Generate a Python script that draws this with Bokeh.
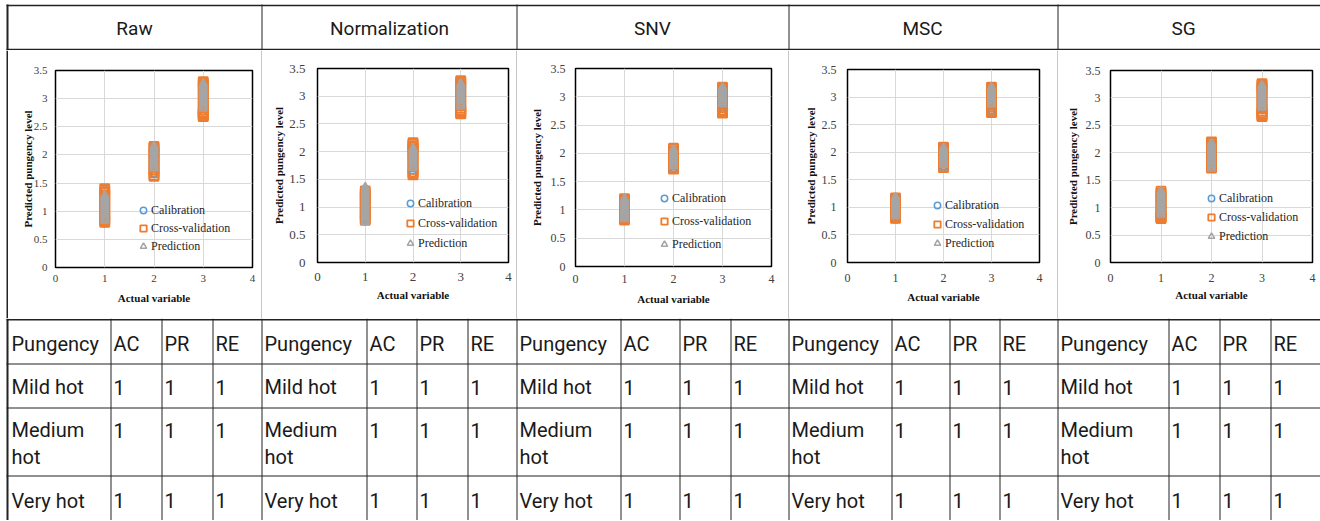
from bokeh.plotting import figure
from bokeh.models import Range1d, FixedTicker, Legend, LegendItem
from bokeh.layouts import row, column
from bokeh.embed import file_html
from bokeh.resources import INLINE
from bokeh.core.properties import value

# ---------------- data ----------------
methods = ["Raw", "Normalization", "SNV", "MSC", "SG"]
classes = [1, 2, 3]
series_names = ["Calibration", "Cross-validation", "Prediction"]
x_tick_values = [0, 1, 2, 3, 4]
x_tick_labels = ["0", "1", "2", "3", "4"]
y_tick_values = [0, 0.5, 1, 1.5, 2, 2.5, 3, 3.5]
y_tick_labels = ["0", "0.5", "1", "1.5", "2", "2.5", "3", "3.5"]
x_title = "Actual variable"
y_title = "Predicted pungency level"

table_columns = ["Pungency", "AC", "PR", "RE"]
pungency_levels = ["Mild  hot", "Medium\nhot", "Very  hot"]
ac_values = [[1, 1, 1], [1, 1, 1], [1, 1, 1], [1, 1, 1], [1, 1, 1]]
pr_values = [[1, 1, 1], [1, 1, 1], [1, 1, 1], [1, 1, 1], [1, 1, 1]]
re_values = [[1, 1, 1], [1, 1, 1], [1, 1, 1], [1, 1, 1], [1, 1, 1]]

# predicted values per actual class (1, 2, 3)
raw_cal = [[0.78, 0.82, 0.87, 0.91, 0.94, 0.99, 1.03, 1.08, 1.12, 1.17, 1.21, 1.26, 1.31, 1.36, 1.39],
           [1.66, 1.68, 1.72, 1.77, 1.81, 1.86, 1.90, 1.95, 1.99, 2.04, 2.09, 2.13, 2.17],
           [2.78, 2.84, 2.88, 2.93, 2.97, 3.02, 3.06, 3.11, 3.16, 3.20, 3.25, 3.29]]
raw_cv = [[0.80, 0.82, 0.85, 0.89, 0.93, 0.97, 1.02, 1.06, 1.11, 1.16, 1.20, 1.25, 1.29, 1.33, 1.37, 1.40],
          [1.62, 1.64, 1.68, 1.73, 1.78, 1.82, 1.87, 1.92, 1.96, 2.01, 2.05, 2.10, 2.13, 2.15],
          [2.68, 2.69, 2.71, 2.72, 2.74, 2.76, 2.79, 2.83, 2.88, 2.94, 2.99, 3.05, 3.10, 3.16, 3.21, 3.25, 3.28, 3.30]]
raw_pr = [[0.83, 0.86, 0.89, 0.93, 0.96, 0.99, 1.02, 1.06, 1.09, 1.12, 1.15, 1.19, 1.22, 1.25, 1.28],
          [1.76, 1.79, 1.82, 1.85, 1.89, 1.92, 1.95, 1.98, 2.02, 2.05, 2.08, 2.11, 2.14, 2.16],
          [2.82, 2.85, 2.88, 2.92, 2.95, 2.98, 3.01, 3.05, 3.08, 3.11, 3.14, 3.18, 3.21, 3.24, 3.27]]

norm_cal = [[0.75, 0.79, 0.84, 0.88, 0.93, 0.97, 1.02, 1.06, 1.11, 1.15, 1.20, 1.24, 1.29, 1.33],
            [1.59, 1.61, 1.66, 1.70, 1.75, 1.80, 1.84, 1.89, 1.94, 1.98, 2.03, 2.07, 2.11],
            [2.80, 2.85, 2.89, 2.94, 2.98, 3.03, 3.07, 3.12, 3.16, 3.21, 3.25]]
norm_cv = [[0.76, 0.78, 0.82, 0.86, 0.91, 0.95, 1.00, 1.04, 1.09, 1.13, 1.18, 1.22, 1.26, 1.29],
           [1.58, 1.60, 1.63, 1.68, 1.73, 1.78, 1.83, 1.88, 1.93, 1.98, 2.02, 2.05, 2.08, 2.11, 2.14, 2.16],
           [2.68, 2.69, 2.71, 2.73, 2.75, 2.78, 2.82, 2.87, 2.93, 2.98, 3.04, 3.09, 3.14, 3.19, 3.23, 3.26, 3.28]]
norm_pr = [[0.73, 0.76, 0.80, 0.83, 0.86, 0.90, 0.93, 0.97, 1.00, 1.04, 1.07, 1.11, 1.14, 1.18, 1.21, 1.25, 1.28, 1.32, 1.36],
           [1.70, 1.73, 1.76, 1.79, 1.83, 1.86, 1.89, 1.92, 1.96, 1.99, 2.02, 2.04, 2.06],
           [2.81, 2.84, 2.87, 2.91, 2.94, 2.97, 3.00, 3.04, 3.07, 3.10, 3.13, 3.17, 3.20, 3.23]]

snv_cal = [[0.83, 0.86, 0.90, 0.94, 0.98, 1.02, 1.06, 1.10, 1.14, 1.18],
           [1.72, 1.74, 1.78, 1.82, 1.86, 1.90, 1.94, 1.98, 2.02, 2.06],
           [2.71, 2.74, 2.79, 2.84, 2.89, 2.94, 2.99, 3.04, 3.09, 3.13, 3.16]]
snv_cv = [[0.82, 0.84, 0.87, 0.91, 0.95, 0.99, 1.03, 1.07, 1.11, 1.15, 1.18, 1.20],
          [1.72, 1.73, 1.76, 1.80, 1.84, 1.88, 1.92, 1.96, 2.00, 2.04, 2.07, 2.09],
          [2.71, 2.72, 2.74, 2.77, 2.81, 2.85, 2.90, 2.95, 3.00, 3.05, 3.09, 3.13, 3.16, 3.17]]
snv_pr = [[0.84, 0.87, 0.90, 0.93, 0.96, 0.99, 1.02, 1.05, 1.08, 1.11, 1.14, 1.17, 1.20],
          [1.77, 1.80, 1.83, 1.86, 1.89, 1.92, 1.95, 1.98, 2.01, 2.04, 2.07],
          [2.87, 2.90, 2.93, 2.96, 2.99, 3.02, 3.05, 3.08, 3.11, 3.14, 3.17]]

msc_cal = [[0.78, 0.81, 0.85, 0.89, 0.93, 0.97, 1.01, 1.05, 1.09, 1.13, 1.17],
           [1.72, 1.75, 1.79, 1.83, 1.87, 1.91, 1.95, 1.99, 2.03, 2.07],
           [2.73, 2.76, 2.80, 2.85, 2.90, 2.95, 3.00, 3.05, 3.10, 3.14, 3.17]]
msc_cv = [[0.80, 0.81, 0.84, 0.88, 0.92, 0.96, 1.00, 1.04, 1.08, 1.12, 1.15, 1.17],
          [1.72, 1.73, 1.77, 1.81, 1.85, 1.89, 1.93, 1.97, 2.01, 2.05, 2.08, 2.09],
          [2.72, 2.73, 2.75, 2.78, 2.82, 2.86, 2.91, 2.96, 3.01, 3.06, 3.10, 3.14, 3.17, 3.18]]
msc_pr = [[0.84, 0.87, 0.90, 0.93, 0.96, 0.99, 1.02, 1.05, 1.08, 1.11, 1.14, 1.17, 1.19],
          [1.77, 1.80, 1.83, 1.86, 1.89, 1.92, 1.95, 1.98, 2.01, 2.04, 2.07, 2.08],
          [2.86, 2.89, 2.92, 2.95, 2.98, 3.01, 3.04, 3.07, 3.10, 3.13, 3.16, 3.18]]

sg_cal = [[0.82, 0.86, 0.90, 0.94, 0.99, 1.03, 1.08, 1.12, 1.17, 1.21, 1.26, 1.30],
          [1.71, 1.74, 1.79, 1.83, 1.88, 1.92, 1.97, 2.01, 2.06, 2.10, 2.15, 2.18],
          [2.78, 2.82, 2.87, 2.92, 2.97, 3.02, 3.07, 3.12, 3.17, 3.21, 3.25]]
sg_cv = [[0.80, 0.81, 0.82, 0.84, 0.87, 0.91, 0.96, 1.00, 1.05, 1.10, 1.14, 1.19, 1.23, 1.27, 1.30],
         [1.72, 1.75, 1.79, 1.84, 1.88, 1.93, 1.97, 2.02, 2.06, 2.11, 2.15, 2.18, 2.20],
         [2.66, 2.67, 2.69, 2.71, 2.73, 2.76, 2.80, 2.85, 2.91, 2.96, 3.02, 3.07, 3.12, 3.17, 3.21, 3.24, 3.26]]
sg_pr = [[0.87, 0.90, 0.93, 0.96, 0.99, 1.02, 1.05, 1.08, 1.11, 1.15, 1.18, 1.21, 1.24, 1.27, 1.30],
         [1.71, 1.74, 1.77, 1.80, 1.83, 1.86, 1.89, 1.92, 1.95, 1.98, 2.01, 2.04, 2.07, 2.10, 2.13, 2.16, 2.18],
         [2.82, 2.85, 2.88, 2.91, 2.94, 2.97, 3.00, 3.03, 3.06, 3.09, 3.12, 3.15, 3.18, 3.21, 3.23]]

panel_series = [(raw_cal, raw_cv, raw_pr), (norm_cal, norm_cv, norm_pr), (snv_cal, snv_cv, snv_pr),
                (msc_cal, msc_cv, msc_pr), (sg_cal, sg_cv, sg_pr)]

# ---------------- layout / style ----------------
W = 1320
HEADER_H, PLOT_H, TABLE_H = 50, 268, 202
Y_HEADER, Y_PLOT, Y_TABLE = 0, 50, 318
LINE = "#222222"
TXT = "#1a1a1a"
major_lines = [6, 261, 516, 788, 1057]
sub_lines = [[6, 110, 161, 212], [261, 366, 416, 467], [516, 620, 679, 730],
             [788, 891, 949, 999], [1057, 1168, 1219, 1270]]
header_cx = [134, 389, 652, 922, 1183]
panel_widths = [253, 254, 271, 268, 262]
strip_widths = [8, 1, 1, 1, 1]
# left, right, top, bottom borders
panel_borders = [(47, 9, 20, 51), (55, 8, 18, 56), (58, 17, 18, 52), (58, 18, 19, 56), (52, 8, 20, 56)]
tick_font = [11, 13, 12, 12, 12]
ytick_standoff = [8, 12, 10, 11, 10]
xtick_standoff = [7, 10, 8, 11, 11]
ylabel_standoff = [-3, 1, 5, 2, 4]
xlabel_standoff = [7, 5, 7, 6, 4]
legend_loc = [(80, 13), (85, 11), (81, 14), (82, 11), (93, 18)]
legend_spacing = [2, 4, 7, 3, 3]

C_CAL, C_CV, C_PR = "#5B9BD5", "#ED7D31", "#A5A5A5"
SERIF = "Liberation Serif"


def flat(series):
    xs, ys = [], []
    for c, vals in zip(classes, series):
        for v in vals:
            xs.append(c)
            ys.append(v)
    return xs, ys


def make_panel(i):
    cal, cv, pr = panel_series[i]
    l, r, t, b = panel_borders[i]
    p = figure(width=panel_widths[i], height=PLOT_H, x_range=Range1d(0, 4), y_range=Range1d(0, 3.5),
               output_backend="svg", toolbar_location=None,
               min_border_left=l, min_border_right=r, min_border_top=t, min_border_bottom=b,
               background_fill_color="white", border_fill_color="white",
               outline_line_color="black", outline_line_width=1.5)
    p.xaxis.ticker = FixedTicker(ticks=x_tick_values)
    p.yaxis.ticker = FixedTicker(ticks=y_tick_values)
    p.xaxis.major_label_overrides = {k: v for k, v in zip(x_tick_values, x_tick_labels)}
    p.yaxis.major_label_overrides = {float(k): v for k, v in zip(y_tick_values, y_tick_labels)}
    for ax in (p.xaxis, p.yaxis):
        ax.axis_line_color = None
        ax.major_tick_line_color = None
        ax.minor_tick_line_color = None
        ax.major_tick_out = 0
        ax.major_tick_in = 0
        ax.minor_tick_out = 0
        ax.minor_tick_in = 0
        ax.major_label_text_font = SERIF
        ax.major_label_text_font_size = f"{tick_font[i]}px"
        ax.major_label_text_color = "#404040"
        ax.axis_label_text_font = SERIF
        ax.axis_label_text_font_size = "11px"
        ax.axis_label_text_font_style = "bold"
        ax.axis_label_text_color = "#111111"
    p.xaxis.axis_label = x_title
    p.yaxis.axis_label = y_title
    p.xaxis.major_label_standoff = xtick_standoff[i]
    p.yaxis.major_label_standoff = ytick_standoff[i]
    p.xaxis.axis_label_standoff = xlabel_standoff[i]
    p.yaxis.axis_label_standoff = ylabel_standoff[i]
    p.grid.grid_line_color = "#D9D9D9"
    p.grid.grid_line_width = 1
    p.xgrid.ticker = FixedTicker(ticks=x_tick_values)
    p.ygrid.ticker = FixedTicker(ticks=y_tick_values)

    x, y = flat(cal)
    r1 = p.scatter(x, y, marker="circle", size=7, line_color=C_CAL, line_width=1.5, fill_color=None)
    x, y = flat(cv)
    r2 = p.scatter(x, y, marker="square", size=9, line_color=C_CV, line_width=1.8, fill_color=None)
    x, y = flat(pr)
    r3 = p.scatter(x, y, marker="triangle", size=8, line_color=C_PR, line_width=1.5, fill_color=None)

    legend = Legend(items=[LegendItem(label=series_names[0], renderers=[r1]),
                           LegendItem(label=series_names[1], renderers=[r2]),
                           LegendItem(label=series_names[2], renderers=[r3])],
                    location=legend_loc[i], orientation="vertical", padding=0, margin=0,
                    spacing=legend_spacing[i], glyph_width=16, glyph_height=16,
                    label_height=16, label_width=10, label_standoff=-2,
                    label_text_font=SERIF, label_text_font_size="12px", label_text_color="#262626",
                    border_line_color=None, background_fill_alpha=0)
    p.add_layout(legend)
    return column([p], spacing=0)


def canvas(h, y_top):
    p = figure(width=W, height=h, x_range=Range1d(0, W), y_range=Range1d(y_top + h, y_top),
               output_backend="svg", toolbar_location=None, min_border=0,
               x_axis_type=None, y_axis_type=None, outline_line_color=None,
               background_fill_color="white", border_fill_color="white")
    return p


def strip(w, line_x, line_w):
    p = figure(width=w, height=PLOT_H, x_range=Range1d(0, w), y_range=Range1d(0, 1),
               output_backend="svg", toolbar_location=None, min_border=0,
               x_axis_type=None, y_axis_type=None, outline_line_color=None,
               background_fill_color="white", border_fill_color="white")
    p.segment(x0=[line_x], y0=[0], x1=[line_x], y1=[1], line_color=LINE, line_width=line_w)
    return p


# ---- header row ----
hdr = canvas(HEADER_H, Y_HEADER)
hdr.segment(x0=[6, 6], y0=[4.9, 49.1], x1=[W, W], y1=[4.9, 49.1], line_color=LINE, line_width=1.5)
hx = [L + (1 if k == 0 else 0.5) for k, L in enumerate(major_lines)]
hw = [2 if k == 0 else 1 for k in range(len(major_lines))]
hdr.segment(x0=hx, y0=[4] * len(hx), x1=hx, y1=[50] * len(hx), line_color=LINE, line_width=hw)
hdr.text(x=header_cx, y=[28] * len(methods), text=methods, text_font=value("Roboto"),
         text_font_size="19px", text_align="center", text_baseline="middle", text_color=TXT)

# ---- plot row ----
children = []
for i in range(len(methods)):
    if i == 0:
        children.append(strip(strip_widths[i], 7, 2))
    else:
        children.append(strip(strip_widths[i], 0.5, 1))
    children.append(make_panel(i))
plot_row = row(children, spacing=0)

# ---- lower table ----
tab = canvas(TABLE_H, Y_TABLE)
tab.segment(x0=[6], y0=[319.3], x1=[W], y1=[319.3], line_color=LINE, line_width=1.5)
row_lines = [363.5, 407.5, 475.5]
tab.segment(x0=[6] * 3, y0=row_lines, x1=[W] * 3, y1=row_lines, line_color=LINE, line_width=1)
vx, vw = [], []
for i, lines in enumerate(sub_lines):
    for j, L in enumerate(lines):
        if i == 0 and j == 0:
            vx.append(L + 1); vw.append(2)
        else:
            vx.append(L + 0.5); vw.append(1)
tab.segment(x0=vx, y0=[318] * len(vx), x1=vx, y1=[Y_TABLE + TABLE_H] * len(vx), line_color=LINE, line_width=vw)

head_y = 343
level_y = [386.5, 443, 500]
num_y = [386.5, 430, 500]
tx, ty, tt = [], [], []
for i, lines in enumerate(sub_lines):
    xs = [11 if (i == 0 and j == 0) else L + 3 for j, L in enumerate(lines)]
    for j, name in enumerate(table_columns):
        tx.append(xs[j]); ty.append(head_y); tt.append(name)
    for k, lvl in enumerate(pungency_levels):
        tx.append(xs[0]); ty.append(level_y[k]); tt.append(lvl)
        for j, vals in ((1, ac_values[i]), (2, pr_values[i]), (3, re_values[i])):
            tx.append(xs[j]); ty.append(num_y[k]); tt.append(str(vals[k]))
tab.text(x=tx, y=ty, text=tt, text_font=value("Roboto"), text_font_size="20px",
         text_align="left", text_baseline="middle", text_color=TXT, text_line_height=1.1)

page = column([hdr, plot_row, tab], spacing=0)
open("out.html", "w").write(file_html(page, INLINE))
